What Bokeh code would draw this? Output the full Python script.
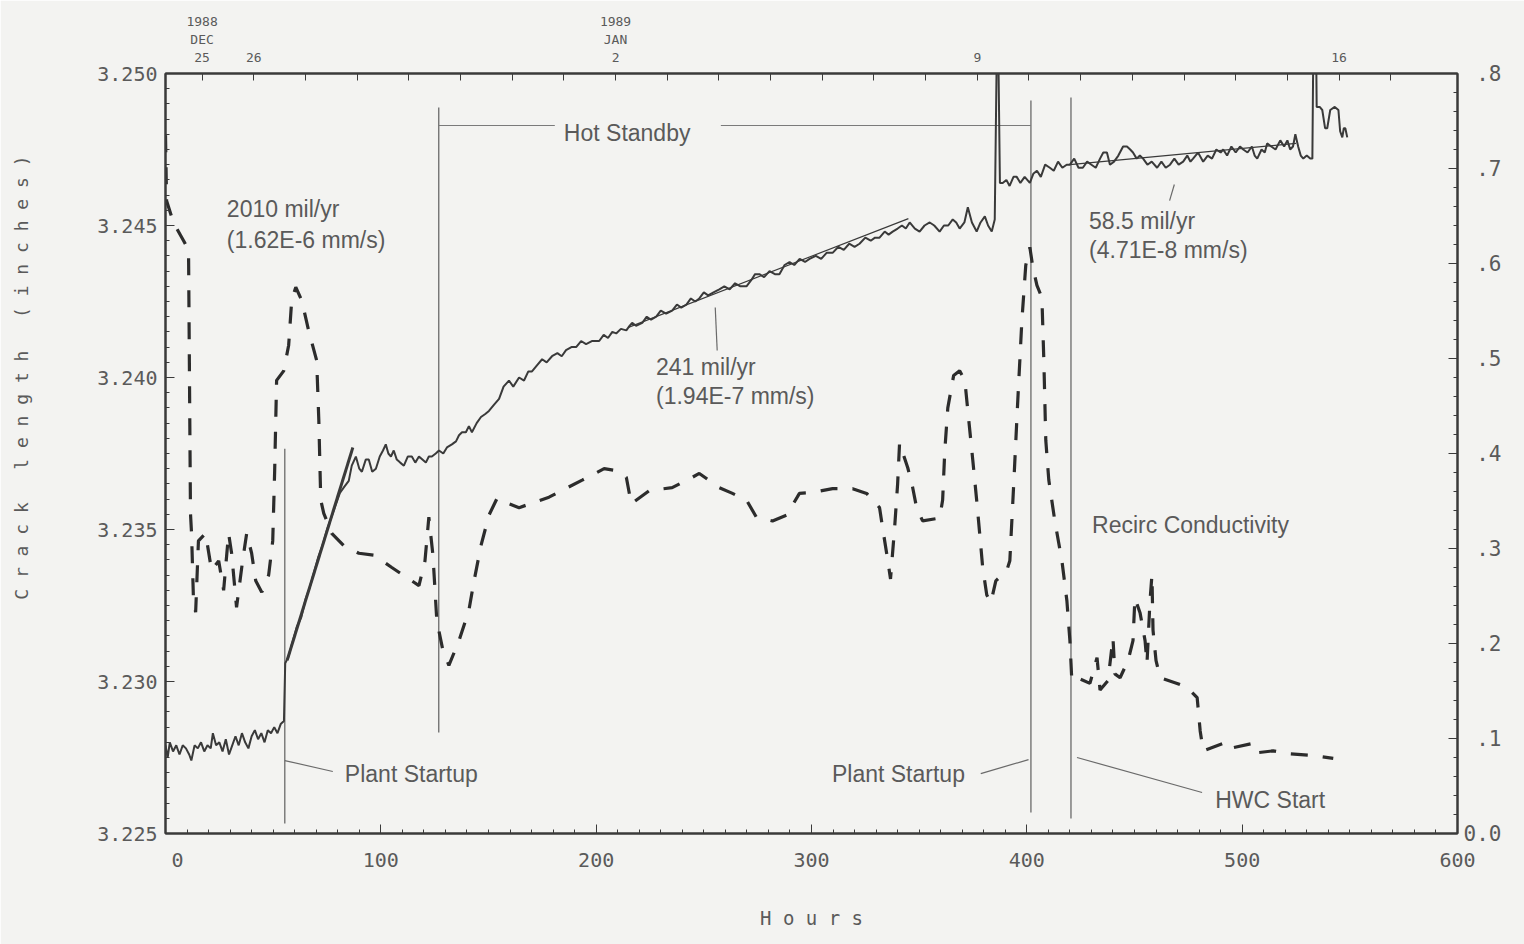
import math
from bokeh.plotting import figure
from bokeh.models import Range1d, LinearAxis, FixedTicker, PrintfTickFormatter
from bokeh.core.properties import value
from bokeh.embed import file_html
from bokeh.resources import INLINE

# ---------------- crack length (inches) vs hours ----------------
crack_pre_startup = [
    (0, 3.2279), (1, 3.2275), (2, 3.2280), (3.5, 3.2277), (5, 3.2279), (6.5, 3.2276),
    (8, 3.2279), (9.5, 3.2278), (11, 3.2276), (12, 3.2274), (13.5, 3.2279), (15, 3.2278),
    (16.5, 3.2280), (18, 3.2277), (19.5, 3.2279), (21, 3.2278), (22, 3.2283), (23.5, 3.2279),
    (25, 3.2280), (26.5, 3.2277), (28, 3.2281), (29.5, 3.2276), (31, 3.2279), (32.5, 3.2282),
    (34, 3.2279), (35.5, 3.2283), (37, 3.2280), (38.5, 3.2278), (40, 3.2282), (41.5, 3.2284),
    (43, 3.2281), (44.5, 3.2283), (46, 3.2280), (47.5, 3.2284), (49, 3.2283), (50.5, 3.2285),
    (52, 3.2283), (53.5, 3.2286), (55, 3.2287),
]
crack_startup_ramp = [
    (55.6, 3.2306), (57, 3.2308), (59, 3.2313), (61, 3.2318), (63, 3.2321), (65, 3.2327),
    (67, 3.2331), (69, 3.2336), (71, 3.2341), (73, 3.2345), (75, 3.2350), (77, 3.2354),
    (79, 3.2358), (81, 3.2362), (83, 3.2364), (85.1, 3.2366),
]
crack_hot_standby = [
    (86.5, 3.2371), (88.4, 3.2374), (90, 3.2370), (91.2, 3.2369), (93, 3.2373), (94.4, 3.2373),
    (96, 3.2369), (97.7, 3.2370), (99.5, 3.2374), (101, 3.2376), (102.3, 3.2378), (103.5, 3.2375),
    (104.7, 3.2374), (106, 3.2376), (107.4, 3.2373), (109, 3.2372), (110.7, 3.2371), (112.5, 3.2374),
    (114.4, 3.2374), (116, 3.2372), (117.7, 3.2374), (119.3, 3.2373), (120.9, 3.2372), (122.3, 3.2374),
    (123.7, 3.2374), (125.5, 3.2375), (127, 3.2376), (129, 3.2375), (130.7, 3.2377), (133, 3.2378),
    (134.9, 3.2379), (136.3, 3.2381), (137.7, 3.2382), (139.5, 3.2382), (140.9, 3.2384), (142.3, 3.2382),
    (144.5, 3.2385), (146.5, 3.2387), (148.5, 3.2388), (150.2, 3.2389), (152.5, 3.2391), (154.9, 3.2393),
    (157, 3.2397), (159.5, 3.2399), (161.5, 3.2397), (164.2, 3.2400), (166.5, 3.2399), (168.5, 3.2402),
    (170.2, 3.2402), (172.5, 3.2404), (174.9, 3.2406), (177, 3.2405), (179.5, 3.2407), (182, 3.2408),
    (184, 3.2407), (186, 3.2409), (188.5, 3.2410), (190.7, 3.2410), (193, 3.2412), (195.3, 3.2411),
    (198, 3.2412), (201.4, 3.2412), (203.5, 3.2414), (205.5, 3.2413), (207.5, 3.2415), (209.3, 3.24145),
    (211.5, 3.2416), (214, 3.24155), (215.5, 3.2417), (216.7, 3.2418), (218.5, 3.2417), (221.4, 3.2418),
    (223.5, 3.2420), (225.5, 3.2419), (227.9, 3.2420), (230, 3.2422), (232.5, 3.2421), (235.3, 3.2422),
    (237.5, 3.2424), (239.5, 3.2423), (241.9, 3.2424), (244, 3.2426), (246, 3.2425), (247.9, 3.2426),
    (250, 3.2428), (252, 3.2427), (254.5, 3.2428), (257.2, 3.2429), (259.5, 3.2430), (262, 3.2429),
    (264.5, 3.2431), (267, 3.2430), (269.8, 3.2430), (272, 3.2432), (273.8, 3.2434), (275.8, 3.2434),
    (278, 3.2433), (280.5, 3.2435), (283, 3.2434), (285.1, 3.2434), (287.5, 3.2437), (289.8, 3.2438),
    (292, 3.2437), (294.5, 3.2439), (297, 3.2438), (299.1, 3.2439), (302, 3.2440), (304.5, 3.2439),
    (307, 3.2441), (309.8, 3.2441), (312.5, 3.2443), (315, 3.2442), (317.5, 3.2444), (320, 3.2443),
    (322.3, 3.2444), (325, 3.2446), (327.5, 3.2445), (329.5, 3.2446), (331.6, 3.2446), (334, 3.2448),
    (335.8, 3.2447), (337.7, 3.2448), (340, 3.2449), (342, 3.2450), (343.8, 3.2449), (345.6, 3.2451),
    (348, 3.2449), (350.2, 3.2448), (352.5, 3.2450), (354.9, 3.2451), (357, 3.2450), (359.5, 3.2448),
    (361.5, 3.2450), (363.5, 3.2450), (365.6, 3.2452), (367.2, 3.2451), (368.8, 3.2449), (371, 3.2451),
    (372.6, 3.2456), (374.5, 3.2451), (376.7, 3.2448), (378.5, 3.2451), (380.5, 3.2453), (382, 3.2450),
    (383.7, 3.2448), (385.1, 3.2452),
]
crack_restart = [
    (386.0, 3.2505), (386.8, 3.2505), (387.5, 3.2464), (388.8, 3.2464), (390.5, 3.2465), (392, 3.2463),
    (393.8, 3.2466), (395.3, 3.2466), (397, 3.2464), (399, 3.2466), (401.4, 3.2464), (403, 3.2467),
    (404.7, 3.2468), (406.5, 3.2466), (408.5, 3.2470), (410.7, 3.2469), (412.5, 3.2468), (414.5, 3.2471),
    (416.5, 3.2469), (418.5, 3.2470), (420, 3.2470),
]
crack_hwc = [
    (422, 3.2472), (424, 3.2469), (426, 3.2469), (428, 3.2471), (430, 3.2470), (432, 3.2469),
    (434, 3.2472), (435.5, 3.2474), (437.2, 3.2474), (438.6, 3.2470), (440.5, 3.2471), (442.5, 3.2473),
    (444.7, 3.2476), (446.5, 3.2476), (448, 3.2475), (449.3, 3.2474), (451, 3.2472), (452.5, 3.2473),
    (454, 3.2472), (456, 3.2470), (458, 3.2471), (460.5, 3.2469), (462.5, 3.2471), (464.5, 3.2469),
    (466.5, 3.2470), (468.5, 3.2472), (470.5, 3.2470), (472.6, 3.2471), (474.5, 3.2473), (476, 3.2471),
    (477.2, 3.2472), (479.5, 3.2474), (481.9, 3.2471), (484, 3.2473), (486, 3.2472), (488, 3.2475),
    (490, 3.2474), (491.2, 3.2475), (493, 3.2473), (495, 3.2476), (497, 3.2474), (499, 3.2476),
    (500.5, 3.2475), (502.5, 3.2474), (504.5, 3.2476), (505.8, 3.2473), (507, 3.2472), (509, 3.2475),
    (510.5, 3.2474), (511.6, 3.2477), (513.5, 3.2476), (515.5, 3.2475), (517.7, 3.2478), (519.5, 3.2476),
    (521, 3.2478), (522.3, 3.2475), (523.6, 3.2476), (524.7, 3.2480), (526, 3.2476), (527.2, 3.2473),
    (528.4, 3.2472), (530, 3.2473), (531.6, 3.2472), (532.6, 3.2472), (533.0, 3.2505), (534.4, 3.2505),
    (534.6, 3.2489), (536, 3.2489), (537.2, 3.2488), (538.5, 3.2482), (539.5, 3.2482), (540.9, 3.2488),
    (543, 3.2489), (544.7, 3.2488), (545.5, 3.2481), (546.5, 3.2479), (547.2, 3.2482), (547.9, 3.2482),
    (548.8, 3.2479),
]

# ---------------- recirculation conductivity vs hours ----------------
cond_shutdown = [
    (0.0, 0.735), (0.5, 0.666), (3.7, 0.643), (8.4, 0.624), (10.7, 0.614), (11.6, 0.337),
    (12.1, 0.316), (13.0, 0.245), (14.0, 0.233), (15.3, 0.308), (18.6, 0.316), (21.4, 0.277),
    (24.7, 0.287), (27.0, 0.256), (29.3, 0.316), (30.7, 0.295), (33.0, 0.238), (35.8, 0.287),
    (37.7, 0.316), (40.0, 0.295), (41.9, 0.266), (44.7, 0.254), (47.9, 0.272), (49.8, 0.308),
]
cond_first_startup = [
    (50.7, 0.382), (51.6, 0.477), (54.9, 0.487), (57.2, 0.514), (58.6, 0.561), (60.5, 0.575),
    (63.3, 0.561), (66.5, 0.529), (70.2, 0.498), (71.2, 0.435), (72.1, 0.351), (73.5, 0.337),
    (77.2, 0.316), (82.8, 0.303), (89.8, 0.295), (96.7, 0.293), (105.1, 0.280), (113.0, 0.268),
    (117.7, 0.261), (120.5, 0.287), (122.3, 0.333), (124.2, 0.293), (126.0, 0.224), (128.8, 0.193),
    (131.6, 0.177),
]
cond_standby = [
    (136.3, 0.203), (140.9, 0.235), (143.3, 0.266), (146.5, 0.303), (150.2, 0.335), (154.0, 0.353),
    (159.5, 0.347), (164.2, 0.343), (178.1, 0.354), (193.5, 0.372), (203.7, 0.384), (209.3, 0.382),
    (214.0, 0.375), (216.3, 0.347), (224.7, 0.361), (235.3, 0.364), (244.7, 0.375), (247.9, 0.379),
    (257.2, 0.364), (263.3, 0.358), (269.8, 0.351), (274.4, 0.333), (281.9, 0.329), (288.4, 0.335),
    (294.4, 0.358), (300.5, 0.359), (309.8, 0.363), (319.1, 0.363), (325.6, 0.358), (331.6, 0.343),
    (333.0, 0.322), (334.9, 0.295), (336.7, 0.268), (338.6, 0.322), (340.0, 0.368), (340.9, 0.411),
    (344.7, 0.385), (347.0, 0.364), (348.8, 0.343), (351.6, 0.329), (359.5, 0.332), (360.9, 0.351),
    (361.9, 0.403), (363.3, 0.448), (366.0, 0.482), (368.8, 0.487), (371.2, 0.477), (372.6, 0.445),
    (374.9, 0.393), (376.7, 0.351), (378.1, 0.316), (379.5, 0.280), (381.4, 0.251), (383.3, 0.243),
    (385.6, 0.266), (388.4, 0.272), (390.7, 0.277), (392.1, 0.287),
]
cond_second_startup = [
    (394.0, 0.372), (395.8, 0.456), (397.7, 0.540), (399.5, 0.598), (401.4, 0.617), (402.8, 0.596),
    (404.7, 0.577), (407.0, 0.564), (407.9, 0.498), (408.8, 0.414), (410.2, 0.372), (413.0, 0.329),
    (416.3, 0.287), (418.6, 0.245), (420.0, 0.203), (420.9, 0.161), (423.3, 0.164), (429.3, 0.158),
    (432.6, 0.185), (434.0, 0.151), (437.7, 0.161), (440.0, 0.206), (440.9, 0.168), (443.3, 0.164),
    (447.0, 0.182), (449.3, 0.203), (450.2, 0.248), (452.6, 0.232), (454.9, 0.203), (455.8, 0.179),
    (457.2, 0.245), (458.1, 0.272), (458.6, 0.214), (460.0, 0.182), (461.9, 0.164), (469.8, 0.158),
    (474.4, 0.154), (479.1, 0.143), (480.5, 0.108), (481.9, 0.087), (491.2, 0.095), (493.0, 0.089),
    (505.1, 0.095), (507.0, 0.085), (514.4, 0.087), (520.9, 0.084), (533.0, 0.082), (542.3, 0.079),
]

# ---------------- fitted growth rates ----------------
fit_rate_mil_per_yr = [2010, 241, 58.5]
fit_start_hour = [56.5, 215.0, 420.0]
fit_end_hour = [87.0, 345.0, 525.0]
fit_start_in = [3.2307, 3.24165, 3.2470]
fit_widths = [3.0, 1.2, 1.2]

# ---------------- tick labels ----------------
hour_ticks = [0, 100, 200, 300, 400, 500, 600]
hour_labels = ["\u00a0\u00a00", "100", "200", "300", "400", "500", "600"]
crack_ticks = [3.225, 3.230, 3.235, 3.240, 3.245, 3.250]
cond_ticks = [0.0, 0.1, 0.2, 0.3, 0.4, 0.5, 0.6, 0.7, 0.8]
cond_labels = ["0.0", "\u00a0.1", "\u00a0.2", "\u00a0.3", "\u00a0.4", "\u00a0.5", "\u00a0.6", "\u00a0.7", "\u00a0.8"]
first_day_hour = 17          # 1988 Dec 25, 00:00
day_labels = {0: "1988\nDEC\n25", 1: "26", 8: "1989\nJAN\n2", 15: "9", 22: "16"}

INK = "#3a3a3a"
TEXT = "#5a5a5a"
PAPER = "#f3f3f1"
NBSP = "\u00a0"


def xy(points):
    return [p[0] for p in points], [p[1] for p in points]


p = figure(width=1524, height=944, x_range=Range1d(0, 600), y_range=Range1d(3.225, 3.250),
           output_backend="svg", toolbar_location=None,
           min_border_left=165, min_border_right=67, min_border_top=73, min_border_bottom=111)
p.background_fill_color = PAPER
p.border_fill_color = PAPER
p.outline_line_color = INK
p.outline_line_width = 2
p.xgrid.visible = False
p.ygrid.visible = False
p.extra_y_ranges = {"cond": Range1d(0.0, 0.8)}


def style_axis(ax, size="20px"):
    ax.axis_line_color = INK
    ax.axis_line_width = 2
    ax.major_tick_line_color = INK
    ax.minor_tick_line_color = INK
    ax.major_tick_in = 9
    ax.major_tick_out = 0
    ax.minor_tick_in = 4
    ax.minor_tick_out = 0
    ax.major_label_text_font = "DejaVu Sans Mono"
    ax.major_label_text_font_size = size
    ax.major_label_text_color = TEXT


# bottom: hours
xa = p.xaxis[0]
xa.ticker = FixedTicker(ticks=hour_ticks, minor_ticks=list(range(0, 601, 10)))
style_axis(xa)
xa.major_label_overrides = dict(zip(hour_ticks, hour_labels))
xa.major_label_standoff = 14
xa.axis_label = NBSP.join("Hours")
xa.axis_label_text_font = "DejaVu Sans Mono"
xa.axis_label_text_font_size = "19px"
xa.axis_label_text_font_style = "normal"
xa.axis_label_text_color = TEXT
xa.axis_label_standoff = 32

# left: crack length (title padded at its lower end so it sits above centre)
ya = p.yaxis[0]
ya.ticker = FixedTicker(ticks=crack_ticks, minor_ticks=[3.225 + 0.0005 * i for i in range(51)])
ya.formatter = PrintfTickFormatter(format="%.3f")
style_axis(ya)
ya.major_label_standoff = 8
ya.axis_label = NBSP * 14 + NBSP.join("Crack length (inches)")
ya.axis_label_text_font = "DejaVu Sans Mono"
ya.axis_label_text_font_size = "18px"
ya.axis_label_text_font_style = "normal"
ya.axis_label_text_color = TEXT
ya.axis_label_standoff = 62

# right: conductivity
ra = LinearAxis(y_range_name="cond", ticker=FixedTicker(ticks=cond_ticks,
                minor_ticks=[0.02 * i for i in range(41)]))
style_axis(ra, size="21px")
ra.major_label_overrides = dict(zip(cond_ticks, cond_labels))
ra.major_label_standoff = 6
p.add_layout(ra, "right")

# top: calendar days
day_ticks = [first_day_hour + 24 * k for k in range(24)]
ta = LinearAxis(ticker=FixedTicker(ticks=day_ticks, minor_ticks=[]))
style_axis(ta, size="13px")
ta.major_tick_in = 7
ta.major_label_overrides = {t: day_labels.get(k, "") for k, t in enumerate(day_ticks)}
ta.major_label_standoff = 9
p.add_layout(ta, "above")

# event markers
event_hours = [55.4, 126.9, 401.9, 420.5]
event_bottom = [3.22533, 3.22832, 3.22569, 3.22549]
event_top = [3.23766, 3.24888, 3.24911, 3.24921]
p.segment(x0=event_hours, y0=event_bottom, x1=event_hours, y1=event_top,
          line_color="#6a6a6a", line_width=1.3)

# hot standby span
standby_x0 = [126.9, 257.9]
standby_x1 = [180.8, 401.9]
standby_y = [3.24829, 3.24829]
p.segment(x0=standby_x0, y0=standby_y, x1=standby_x1, y1=standby_y,
          line_color="#7a7a7a", line_width=1.2)

# leader lines from labels to their marks
leader_x0 = [55.4, 378.6, 423.3, 255.3, 468.5]
leader_y0 = [3.22740, 3.22697, 3.22750, 3.24230, 3.24635]
leader_x1 = [77.7, 400.8, 481.4, 256.2, 466.3]
leader_y1 = [3.22704, 3.22743, 3.22635, 3.24089, 3.24582]
p.segment(x0=leader_x0, y0=leader_y0, x1=leader_x1, y1=leader_y1,
          line_color="#6a6a6a", line_width=1.2)

# conductivity (dashed, right axis)
cond_points = cond_shutdown + cond_first_startup + cond_standby + cond_second_startup
cx, cy = xy(cond_points)
p.line(cx, cy, y_range_name="cond", line_color="#2c2c2c", line_width=3.2, line_dash="17 15")

# crack length (solid, left axis)
crack_points = crack_pre_startup + crack_startup_ramp + crack_hot_standby + crack_restart + crack_hwc
kx, ky = xy(crack_points)
p.line(kx, ky, line_color=INK, line_width=2)

# straight-line fits, drawn from the stated growth rates
IN_PER_HR_PER_MIL_YR = 0.001 / 8760.0
fx0, fx1, fy0, fy1 = [], [], [], []
for rate, h0, h1, c0 in zip(fit_rate_mil_per_yr, fit_start_hour, fit_end_hour, fit_start_in):
    fx0.append(h0)
    fx1.append(h1)
    fy0.append(c0)
    fy1.append(c0 + rate * IN_PER_HR_PER_MIL_YR * (h1 - h0))
p.segment(x0=fx0, y0=fy0, x1=fx1, y1=fy1, line_color=INK, line_width=fit_widths)

# annotation texts
note_x = [28.5, 28.5, 185.0, 227.8, 227.8, 428.9, 428.9, 430.3, 83.3, 309.5, 487.5]
note_y = [3.24553, 3.24451, 3.24803, 3.24033, 3.23938, 3.24516, 3.24418, 3.23516,
          3.22697, 3.22697, 3.22609]
note_text = ["2010 mil/yr", "(1.62E-6 mm/s)", "Hot Standby", "241 mil/yr", "(1.94E-7 mm/s)",
             "58.5 mil/yr", "(4.71E-8 mm/s)", "Recirc Conductivity", "Plant Startup",
             "Plant Startup", "HWC Start"]
p.text(x=note_x, y=note_y, text=note_text, text_font=value("Liberation Sans"),
       text_font_size="23px", text_color=TEXT, text_baseline="middle", text_align="left")

open("out.html", "w").write(file_html(p, INLINE))
